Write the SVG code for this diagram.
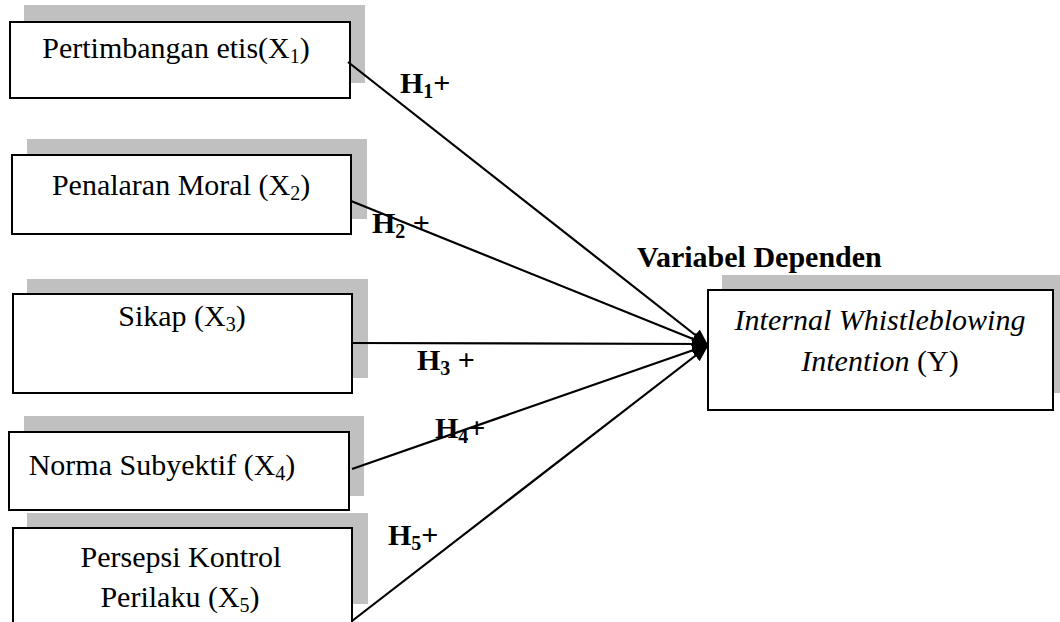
<svg xmlns="http://www.w3.org/2000/svg" width="1060" height="622" viewBox="0 0 1060 622">
<defs>
<style>
.sh{fill:#c0c0c0}
.bx{fill:#fff;stroke:#000;stroke-width:2}
.t{font-family:"Liberation Serif","Times New Roman",serif;font-size:30px;fill:#000}
.c{text-anchor:middle}
.b{font-weight:bold}
.ln{stroke:#000;stroke-width:2.2;fill:none;marker-end:url(#ah)}
</style>
<marker id="ah" markerUnits="userSpaceOnUse" markerWidth="18" markerHeight="16" refX="16" refY="8" orient="auto">
<path d="M0,1 L16,8 L0,15 Z" fill="#000"/>
</marker>
</defs>
<rect width="1060" height="622" fill="#fff"/>
<g id="x1">
<rect class="sh" x="24" y="5" width="341" height="78"/>
<rect class="bx" x="10" y="22" width="340" height="76"/>
<text class="t c" x="176" y="58">Pertimbangan etis(X<tspan font-size="20" dy="5">1</tspan><tspan dy="-5">)</tspan></text>
</g>
<g id="x2">
<rect class="sh" x="27" y="139" width="340" height="80"/>
<rect class="bx" x="12" y="155" width="339" height="79"/>
<text class="t c" x="181" y="195">Penalaran Moral (X<tspan font-size="20" dy="5">2</tspan><tspan dy="-5">)</tspan></text>
</g>
<g id="x3">
<rect class="sh" x="27" y="279" width="341" height="99"/>
<rect class="bx" x="13" y="294" width="339" height="99"/>
<text class="t c" x="182" y="326">Sikap (X<tspan font-size="20" dy="5">3</tspan><tspan dy="-5">)</tspan></text>
</g>
<g id="x4">
<rect class="sh" x="24" y="416" width="340" height="80"/>
<rect class="bx" x="9" y="432" width="340" height="78"/>
<text class="t c" x="162" y="475">Norma Subyektif (X<tspan font-size="20" dy="5">4</tspan><tspan dy="-5">)</tspan></text>
</g>
<g id="x5">
<rect class="sh" x="27" y="513" width="341" height="91"/>
<rect class="bx" x="13" y="528" width="339" height="110"/>
<text class="t c" x="181" y="567">Persepsi Kontrol</text>
<text class="t c" x="180" y="607">Perilaku (X<tspan font-size="20" dy="5">5</tspan><tspan dy="-5">)</tspan></text>
</g>
<g id="y">
<text class="t b" x="637" y="267">Variabel Dependen</text>
<rect class="sh" x="722" y="275" width="340" height="118"/>
<rect class="bx" x="708" y="290" width="345" height="120"/>
<text class="t c" x="880" y="330"><tspan font-style="italic">Internal Whistleblowing</tspan></text>
<text class="t c" x="880" y="371"><tspan font-style="italic">Intention</tspan> (Y)</text>
</g>
<g id="connectors">
<line class="ln" x1="348" y1="62" x2="708" y2="345"/>
<line class="ln" x1="351" y1="201" x2="708" y2="345"/>
<line class="ln" x1="351" y1="343" x2="708" y2="344"/>
<line class="ln" x1="352" y1="469" x2="708" y2="345"/>
<line class="ln" x1="352" y1="621" x2="708" y2="346"/>
<text class="t b" x="400" y="93">H<tspan font-size="20" dy="5">1</tspan><tspan dy="-5">+</tspan></text>
<text class="t b" x="372" y="233">H<tspan font-size="20" dy="5">2</tspan><tspan dy="-5"> +</tspan></text>
<text class="t b" x="417" y="370">H<tspan font-size="20" dy="5">3</tspan><tspan dy="-5"> +</tspan></text>
<text class="t b" x="435" y="438">H<tspan font-size="20" dy="5">4</tspan><tspan dy="-5">+</tspan></text>
<text class="t b" x="388" y="545">H<tspan font-size="20" dy="5">5</tspan><tspan dy="-5">+</tspan></text>
</g>
</svg>
